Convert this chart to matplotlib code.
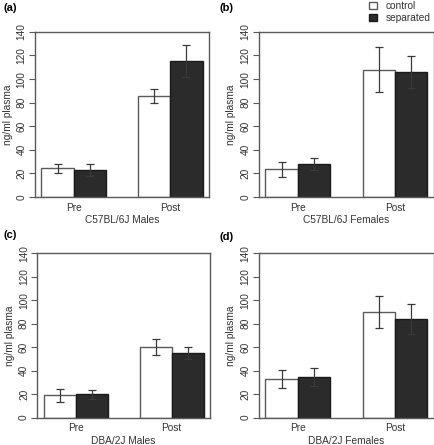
import numpy as np
import matplotlib.pyplot as plt
from matplotlib.patches import Patch

plt.rcParams['font.family'] = ['Liberation Sans', 'DejaVu Sans']

# --- Data ---
groups = ["Pre", "Post"]
panel_tags = ["(a)", "(b)", "(c)", "(d)"]
panel_titles = ["C57BL/6J Males", "C57BL/6J Females", "DBA/2J Males", "DBA/2J Females"]

control_mean = [[24.4, 86.0], [23.4, 107.9], [19.0, 60.0], [32.7, 90.1]]
control_err = [[3.7, 6.0], [6.3, 19.0], [5.7, 6.7], [7.7, 13.4]]
separated_mean = [[22.8, 115.2], [27.9, 106.0], [19.9, 55.1], [34.9, 84.4]]
separated_err = [[5.2, 13.7], [5.2, 13.6], [4.0, 5.4], [7.8, 12.8]]

# --- Layout: axes boxes in figure fractions ---
boxes = [
    [0.0805, 0.5573, 0.400, 0.371],
    [0.5954, 0.5573, 0.402, 0.371],
    [0.0858, 0.0614, 0.397, 0.3694],
    [0.5954, 0.0614, 0.402, 0.3694],
]

fig = plt.figure(figsize=(4.35, 4.45), dpi=100)
frame_col = "#5a5a5a"
dark = "#2b2b2b"
err_col = "#3a3a3a"
txt_col = "#333333"
fs = 7.3

for k in range(4):
    ax = fig.add_axes(boxes[k])
    x_ctrl = np.array([0.5, 3.5])
    x_sep = np.array([1.5, 4.5])
    ax.bar(x_ctrl, control_mean[k], width=1.0, color="white",
           edgecolor=frame_col, linewidth=1.0, zorder=2)
    ax.bar(x_sep, separated_mean[k], width=1.0, color=dark,
           edgecolor="#1a1a1a", linewidth=1.0, zorder=2)
    ax.errorbar(x_ctrl, control_mean[k], yerr=control_err[k], fmt="none",
                ecolor=err_col, elinewidth=0.9, capsize=3, capthick=0.9, zorder=3)
    ax.errorbar(x_sep, separated_mean[k], yerr=separated_err[k], fmt="none",
                ecolor=err_col, elinewidth=0.9, capsize=3, capthick=0.9, zorder=3)

    ax.set_xlim(-0.2, 5.2)
    ax.set_ylim(0, 140)
    ax.set_yticks(range(0, 141, 20))
    ax.set_yticklabels([str(v) for v in range(0, 141, 20)], rotation=90,
                       va="center", fontsize=fs, color=txt_col)
    ax.tick_params(axis="y", direction="out", length=4, width=0.8,
                   color=frame_col, pad=2)
    ax.set_xticks([1.0, 4.0])
    ax.set_xticklabels(groups, fontsize=fs, color=txt_col)
    ax.tick_params(axis="x", length=0, pad=4)
    for s in ax.spines.values():
        s.set_color(frame_col)
        s.set_linewidth(1.0)
    ax.set_ylabel("ng/ml plasma", fontsize=fs, color=txt_col, labelpad=3)
    ax.set_xlabel(panel_titles[k], fontsize=fs, color=txt_col, labelpad=2)

# Panel tags
tag_pos = [(0.007, 0.982), (0.504, 0.982), (0.007, 0.472), (0.504, 0.467)]
for tag, (tx, ty) in zip(panel_tags, tag_pos):
    fig.text(tx, ty, tag, fontsize=8, fontweight="bold", va="center", ha="left")

# Legend
handles = [Patch(facecolor="white", edgecolor=frame_col, label="control"),
           Patch(facecolor=dark, edgecolor="#1a1a1a", label="separated")]
fig.legend(handles=handles, loc="upper right", bbox_to_anchor=(1.012, 1.018),
           frameon=False, fontsize=fs, handlelength=0.75, handleheight=0.75,
           handletextpad=0.9, labelspacing=0.2, labelcolor=txt_col)

fig.savefig("out.png", dpi=100)
